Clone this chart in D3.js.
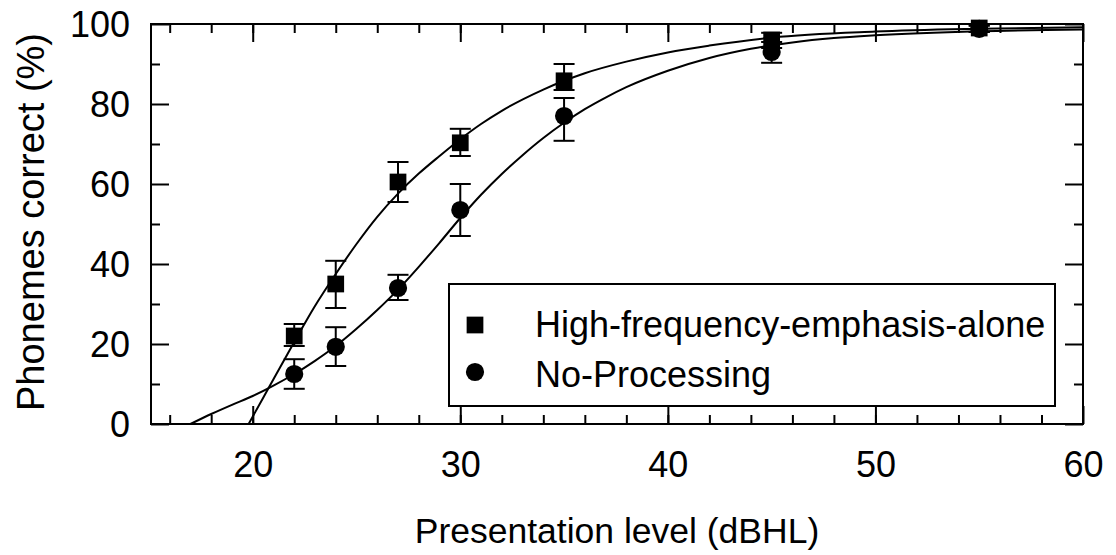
<!DOCTYPE html>
<html>
<head>
<meta charset="utf-8">
<script src="https://cdn.jsdelivr.net/npm/d3@7"></script>
<style>
  body { margin: 0; background: #fff; }
  text { font-family: "Liberation Sans", Arial, Helvetica, sans-serif; fill: #000; }
</style>
</head>
<body>
<div id="chart"></div>
<script>
// presentation levels (dBHL) where scores were measured
const levels = [22, 24, 27, 30, 35, 45, 55]

// High-frequency-emphasis-alone: mean and error bar ends
const hfeMean = [22, 35, 60.5, 70.3, 85.8, 96, 99]
const hfeLow = [19.5, 29, 55.5, 67, 83.5, 94, 98]
const hfeHigh = [25, 40.8, 65.5, 73.8, 90, 97.8, 99.6]

// No-Processing: mean and error bar ends
const noProcMean = [12.5, 19.3, 34, 53.5, 77, 93, 98.8]
const noProcLow = [8.8, 14.5, 31, 47, 70.8, 90.3, 98]
const noProcHigh = [16.2, 24.2, 37.3, 60, 81.5, 95.5, 99.6]

// fitted curves
const hfeFitX = [19.8, 20.5, 21, 22, 23, 24, 25, 26, 27, 28, 29, 30, 31, 32, 34, 35, 36, 38, 40, 42, 45, 50, 55, 60]
const hfeFitY = [0, 6.5, 11.2, 20.5, 29.5, 37.5, 45, 51.8, 57.6, 62.6, 67, 71.2, 75, 78.3, 83.6, 85.8, 87.7, 90.6, 92.9, 94.6, 96.6, 98.1, 98.8, 99.2]
const noProcFitX = [17, 18, 19, 20, 21, 22, 23, 24, 25, 26, 27, 28, 29, 30, 31, 32, 33, 34, 35, 36, 37, 38, 40, 42, 44, 46, 48, 50, 55, 60]
const noProcFitY = [0, 2.5, 4.8, 7, 9.6, 12.5, 15.8, 19.5, 23.8, 28.5, 33.6, 39.3, 45.3, 51.5, 57.3, 62.5, 67.2, 71.5, 75.3, 78.7, 81.6, 84.2, 88.3, 91.5, 93.8, 95.4, 96.5, 97.2, 98.2, 98.6]

const xTicks = [20, 30, 40, 50, 60]
const xMinorTicks = d3.range(16, 60, 2)
const yTicks = [0, 20, 40, 60, 80, 100]
const yMinorTicks = d3.range(10, 100, 20)
const seriesNames = ["High-frequency-emphasis-alone", "No-Processing"]

const width = 1116
const height = 555
const plotLeft = 151, plotRight = 1083, plotTop = 24, plotBottom = 424
const majorLen = 18
const minorLen = 9

const svg = d3.select("#chart")
  .append("svg")
  .attr("width", width)
  .attr("height", height)

const x = d3.scaleLinear().domain([15.1, 60]).range([plotLeft, plotRight])
const y = d3.scaleLinear().domain([0, 100]).range([plotBottom, plotTop])

function tickAxis(axis, ticks, len, transform, labels) {
  const g = svg.append("g")
    .attr("transform", transform)
    .call(axis.tickValues(ticks).tickSize(-len).tickFormat(labels ? d3.format("d") : ""))
  g.select(".domain").remove()
  g.selectAll(".tick line").attr("stroke", "#000").attr("stroke-width", 2)
  return g
}

// ticks on all four sides, pointing inwards
const xBottom = tickAxis(d3.axisBottom(x), xTicks, majorLen, `translate(0,${plotBottom})`, true)
tickAxis(d3.axisBottom(x), xMinorTicks, minorLen, `translate(0,${plotBottom})`, false)
tickAxis(d3.axisTop(x), xTicks, majorLen, `translate(0,${plotTop})`, false)
tickAxis(d3.axisTop(x), xMinorTicks, minorLen, `translate(0,${plotTop})`, false)
const yLeft = tickAxis(d3.axisLeft(y), yTicks, majorLen, `translate(${plotLeft},0)`, true)
tickAxis(d3.axisLeft(y), yMinorTicks, minorLen, `translate(${plotLeft},0)`, false)
tickAxis(d3.axisRight(y), yTicks, majorLen, `translate(${plotRight},0)`, false)
tickAxis(d3.axisRight(y), yMinorTicks, minorLen, `translate(${plotRight},0)`, false)

xBottom.attr("font-family", null).attr("font-size", 36)
xBottom.selectAll(".tick text")
  .attr("y", 53)
  .attr("dy", 0)
yLeft.attr("font-family", null).attr("font-size", 36)
yLeft.selectAll(".tick text")
  .attr("x", -21)
  .attr("dy", "0.36em")

// frame
svg.append("rect")
  .attr("x", plotLeft)
  .attr("y", plotTop)
  .attr("width", plotRight - plotLeft)
  .attr("height", plotBottom - plotTop)
  .attr("fill", "none")
  .attr("stroke", "#000")
  .attr("stroke-width", 2)

// axis titles
svg.append("text")
  .attr("x", (plotLeft + plotRight) / 2)
  .attr("y", 543)
  .attr("text-anchor", "middle")
  .attr("font-size", 35.5)
  .text("Presentation level (dBHL)")

svg.append("text")
  .attr("transform", `translate(44,${(plotTop + plotBottom) / 2 - 2}) rotate(-90)`)
  .attr("text-anchor", "middle")
  .attr("font-size", 38)
  .text("Phonemes correct (%)")

// fitted curves
const line = d3.line()
  .x(d => x(d[0]))
  .y(d => y(d[1]))
  .curve(d3.curveMonotoneX)

svg.append("path")
  .datum(d3.zip(noProcFitX, noProcFitY))
  .attr("fill", "none")
  .attr("stroke", "#000")
  .attr("stroke-width", 2)
  .attr("d", line)

svg.append("path")
  .datum(d3.zip(hfeFitX, hfeFitY))
  .attr("fill", "none")
  .attr("stroke", "#000")
  .attr("stroke-width", 2)
  .attr("d", line)

// error bars
function addErrorBars(low, high) {
  const rows = d3.zip(levels, low, high)
  const g = svg.append("g").attr("stroke", "#000").attr("stroke-width", 2)
  g.selectAll("line.stem")
    .data(rows)
    .enter()
    .append("line")
    .attr("x1", d => x(d[0]))
    .attr("x2", d => x(d[0]))
    .attr("y1", d => y(d[1]))
    .attr("y2", d => y(d[2]))
  g.selectAll("line.low")
    .data(rows)
    .enter()
    .append("line")
    .attr("x1", d => x(d[0]) - 10.5)
    .attr("x2", d => x(d[0]) + 10.5)
    .attr("y1", d => y(d[1]))
    .attr("y2", d => y(d[1]))
  g.selectAll("line.high")
    .data(rows)
    .enter()
    .append("line")
    .attr("x1", d => x(d[0]) - 10.5)
    .attr("x2", d => x(d[0]) + 10.5)
    .attr("y1", d => y(d[2]))
    .attr("y2", d => y(d[2]))
}

addErrorBars(noProcLow, noProcHigh)
addErrorBars(hfeLow, hfeHigh)

const square = d3.symbol().type(d3.symbolSquare).size(280)
const circle = d3.symbol().type(d3.symbolCircle).size(260)

svg.selectAll("path.np")
  .data(d3.zip(levels, noProcMean))
  .enter()
  .append("path")
  .attr("d", circle)
  .attr("transform", d => `translate(${x(d[0])},${y(d[1])})`)
  .attr("fill", "#000")

svg.selectAll("path.hfe")
  .data(d3.zip(levels, hfeMean))
  .enter()
  .append("path")
  .attr("d", square)
  .attr("transform", d => `translate(${x(d[0])},${y(d[1])})`)
  .attr("fill", "#000")

// legend
svg.append("rect")
  .attr("x", 449)
  .attr("y", 284)
  .attr("width", 606)
  .attr("height", 122)
  .attr("fill", "#fff")
  .attr("stroke", "#000")
  .attr("stroke-width", 2)

const legendSymbols = [square, circle]
seriesNames.forEach((name, i) => {
  svg.append("path")
    .attr("d", legendSymbols[i])
    .attr("transform", `translate(475,${325 + i * 47})`)
    .attr("fill", "#000")
  svg.append("text")
    .attr("x", 535)
    .attr("y", 337 + i * 50)
    .attr("font-size", 36)
    .text(name)
})
</script>
</body>
</html>
